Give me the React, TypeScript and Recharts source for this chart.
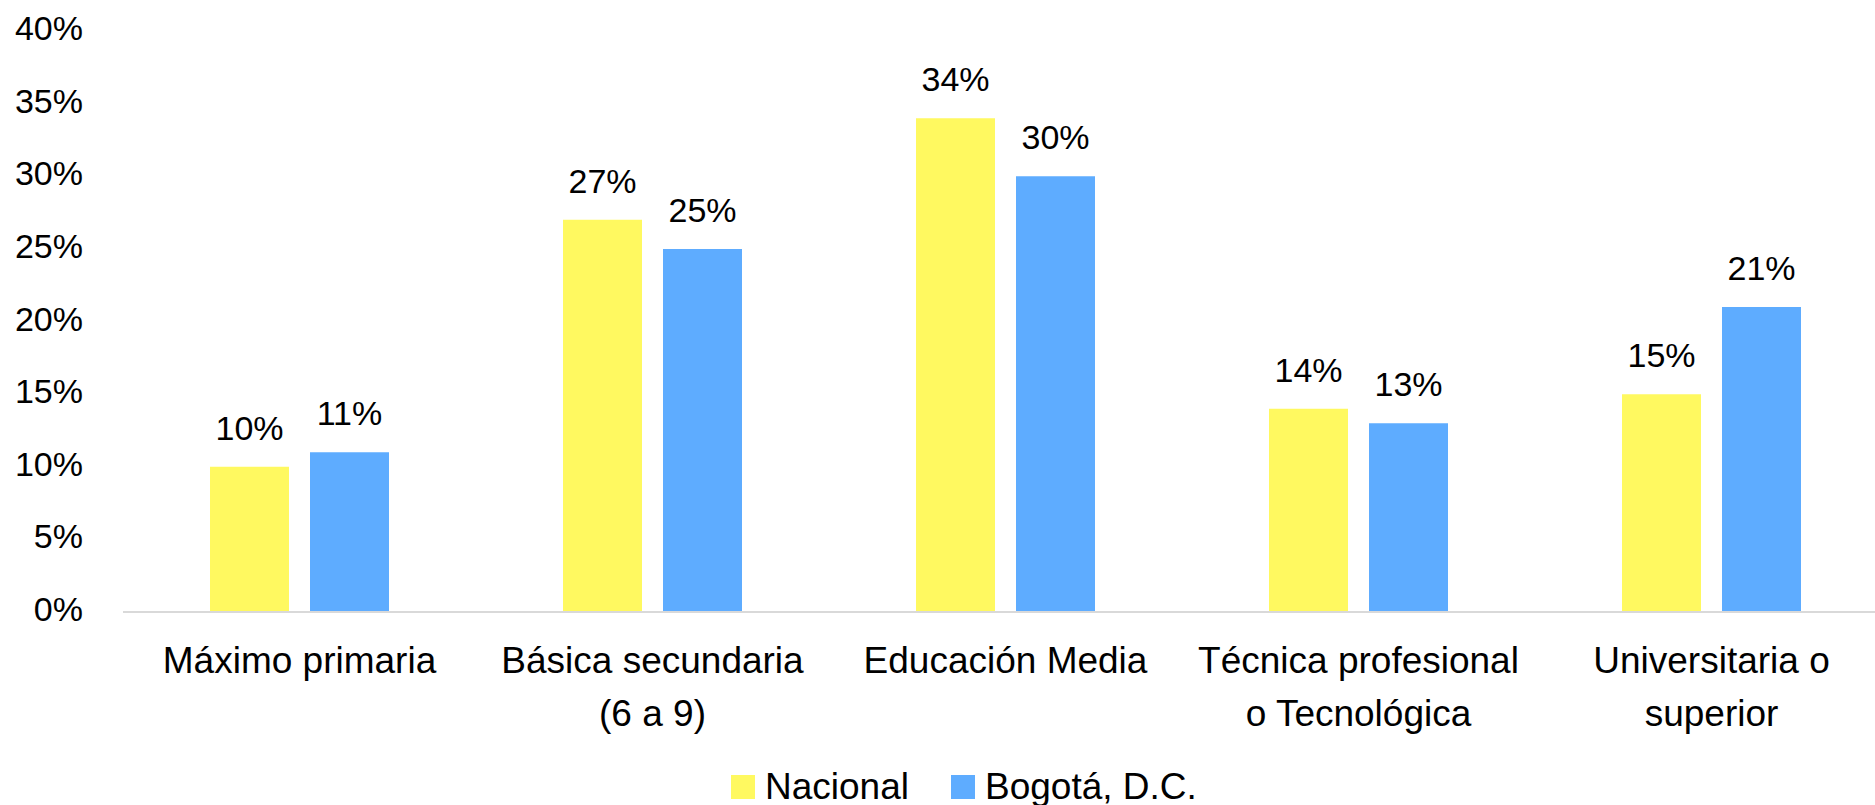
import { BarChart, Bar, XAxis, YAxis, LabelList, Legend } from 'recharts';

const categories = [
  'Máximo primaria',
  'Básica secundaria\n(6 a 9)',
  'Educación Media',
  'Técnica profesional\no Tecnológica',
  'Universitaria o\nsuperior',
];
const nacional = [10, 27, 34, 14, 15];
const bogota = [11, 25, 30, 13, 21];
const yTicks = [0, 5, 10, 15, 20, 25, 30, 35, 40];
const seriesNames = ['Nacional', 'Bogotá, D.C.'];
const colours = ['#FFF960', '#5EACFF'];

const data = categories.map((name, i) => ({ name, nacional: nacional[i], bogota: bogota[i] }));

const FONT = '"Liberation Sans", Arial, sans-serif';

const CategoryTick = ({ x, y, payload }: any) => {
  const lines = String(payload.value).split('\n');
  return (
    <text x={x} y={y} textAnchor="middle" fill="#000" fontSize={37} fontFamily={FONT}>
      {lines.map((line, i) => (
        <tspan key={i} x={x} dy={53}>
          {line}
        </tspan>
      ))}
    </text>
  );
};

// legend built straight from the series arrays so the order stays Nacional, Bogotá
const LegendContent = () => (
  <div style={{ display: 'flex', alignItems: 'center', paddingLeft: 731, fontFamily: FONT, fontSize: 37, color: '#000', height: 40 }}>
    {seriesNames.map((name, i) => (
      <div key={name} style={{ display: 'flex', alignItems: 'center', marginRight: 42 }}>
        <span style={{ display: 'inline-block', width: 24, height: 24, background: colours[i], marginRight: 10 }} />
        <span style={{ lineHeight: '40px' }}>{name}</span>
      </div>
    ))}
  </div>
);

export default function App() {
  return (
    <div style={{ position: 'absolute', left: 0, top: 0, width: 1875, height: 805, overflow: 'hidden', background: '#fff' }}>
      <BarChart
        width={1890}
        height={805}
        data={data}
        margin={{ top: 31, right: 2, bottom: 163, left: 0 }}
        barGap={21}
        style={{ fontFamily: FONT }}
      >
        <YAxis
          width={123}
          domain={[0, 40]}
          ticks={yTicks}
          tickFormatter={(v: number) => `${v}%`}
          tickLine={false}
          axisLine={false}
          tickMargin={34}
          tick={{ fill: '#000', fontSize: 34, fontFamily: FONT, dy: -3 }}
        />
        <XAxis
          dataKey="name"
          height={30}
          tickLine={false}
          axisLine={{ stroke: '#d9d9d9', strokeWidth: 2 }}
          tick={<CategoryTick />}
          interval={0}
        />
        <Legend
          verticalAlign="middle"
          content={<LegendContent />}
          wrapperStyle={{ top: 767, left: 0, width: 1875, height: 40 }}
        />
        <Bar dataKey="nacional" name={seriesNames[0]} fill={colours[0]} barSize={79} isAnimationActive={false}>
          <LabelList dataKey="nacional" position="top" offset={27} formatter={(v: any) => `${v}%`} fill="#000" fontSize={34} fontFamily={FONT} />
        </Bar>
        <Bar dataKey="bogota" name={seriesNames[1]} fill={colours[1]} barSize={79} isAnimationActive={false}>
          <LabelList dataKey="bogota" position="top" offset={27} formatter={(v: any) => `${v}%`} fill="#000" fontSize={34} fontFamily={FONT} />
        </Bar>
      </BarChart>
    </div>
  );
}
